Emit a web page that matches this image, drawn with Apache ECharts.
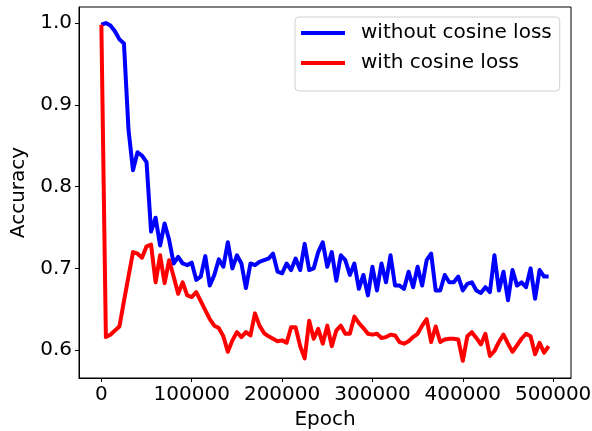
<!DOCTYPE html>
<html>
<head>
<meta charset="utf-8">
<script src="https://cdn.jsdelivr.net/npm/echarts@6/dist/echarts.min.js"></script>
<style>
html,body{margin:0;padding:0;background:#fff;overflow:hidden;}
#c{width:592px;height:431px;}
</style>
</head>
<body>
<div id="c"></div>
<script>
const epochs = [];
for (let i = 0; i < 100; i++) epochs.push(i * 5000);

const withoutCosine = [
  0.998, 1.000, 0.997, 0.990, 0.980, 0.975, 0.870, 0.820, 0.842, 0.838,
  0.830, 0.745, 0.762, 0.728, 0.755, 0.735, 0.706, 0.714, 0.706, 0.704,
  0.707, 0.686, 0.690, 0.715, 0.679, 0.692, 0.711, 0.702, 0.732, 0.700,
  0.716, 0.706, 0.676, 0.706, 0.704, 0.708, 0.710, 0.712, 0.718, 0.696,
  0.694, 0.706, 0.698, 0.712, 0.698, 0.730, 0.698, 0.700, 0.720, 0.732,
  0.702, 0.720, 0.685, 0.716, 0.710, 0.692, 0.706, 0.675, 0.692, 0.667,
  0.702, 0.673, 0.706, 0.683, 0.716, 0.679, 0.679, 0.675, 0.696, 0.677,
  0.702, 0.679, 0.710, 0.718, 0.673, 0.673, 0.692, 0.683, 0.683, 0.690,
  0.673, 0.681, 0.683, 0.673, 0.670, 0.677, 0.671, 0.716, 0.673, 0.696,
  0.661, 0.698, 0.679, 0.683, 0.677, 0.700, 0.663, 0.698, 0.690, 0.690
];

const withCosine = [
  0.998, 0.616, 0.619, 0.624, 0.629, 0.660, 0.690, 0.720, 0.718, 0.713,
  0.727, 0.729, 0.683, 0.716, 0.682, 0.710, 0.690, 0.669, 0.683, 0.667,
  0.665, 0.671, 0.660, 0.649, 0.638, 0.630, 0.627, 0.617, 0.598, 0.612,
  0.622, 0.616, 0.622, 0.618, 0.645, 0.630, 0.621, 0.617, 0.614, 0.611,
  0.612, 0.609, 0.628, 0.628, 0.605, 0.590, 0.636, 0.614, 0.626, 0.608,
  0.630, 0.605, 0.624, 0.630, 0.620, 0.620, 0.641, 0.633, 0.627, 0.620,
  0.619, 0.620, 0.615, 0.616, 0.619, 0.618, 0.610, 0.608, 0.611, 0.616,
  0.620, 0.630, 0.638, 0.610, 0.629, 0.610, 0.613, 0.614, 0.614, 0.613,
  0.587, 0.617, 0.622, 0.615, 0.607, 0.620, 0.593, 0.599, 0.610, 0.619,
  0.608, 0.598, 0.606, 0.614, 0.620, 0.617, 0.595, 0.609, 0.597, 0.605
];

const xTicks = [0, 100000, 200000, 300000, 400000, 500000];
const yTicks = [0.6, 0.7, 0.8, 0.9, 1.0];
const seriesNames = ['without cosine loss', 'with cosine loss'];

const font = 'DejaVu Sans';
const chart = echarts.init(document.getElementById('c'), null, {renderer: 'canvas'});

function pairs(ys) { return epochs.map((x, i) => [x, ys[i]]); }

chart.setOption({
  animation: false,
  backgroundColor: '#fff',
  textStyle: {fontFamily: font},
  grid: {left: 79, top: 7, right: 21, bottom: 53, outerBoundsMode: 'none', containLabel: false,
    show: true, borderColor: '#000', borderWidth: 1, backgroundColor: 'transparent'},
  legend: {
    orient: 'vertical',
    left: 295, top: 17,
    padding: [6, 8, 18, 6],
    itemGap: 10,
    itemWidth: 44, itemHeight: 4,
    backgroundColor: '#fff',
    borderColor: '#d0d0d0', borderWidth: 1, borderRadius: 4,
    textStyle: {fontFamily: font, fontSize: 20, color: '#000', lineHeight: 20, padding: [0, 0, 0, 11]},
    data: seriesNames.map(n => ({name: n, icon: 'rect'}))
  },
  xAxis: {
    type: 'value', min: -24750, max: 519750,
    name: 'Epoch', nameLocation: 'middle', nameGap: 30,
    nameTextStyle: {fontFamily: font, fontSize: 20, color: '#000'},
    axisLine: {show: true, onZero: false, lineStyle: {color: '#000', width: 1}},
    axisTick: {show: true, length: 4, inside: false, customValues: xTicks, lineStyle: {color: '#000'}},
    axisLabel: {show: true, customValues: xTicks, margin: 7, fontFamily: font, fontSize: 20, color: '#000',
      formatter: v => String(Math.round(v))},
    splitLine: {show: false}
  },
  yAxis: {
    type: 'value', min: 0.566, max: 1.0196,
    name: 'Accuracy', nameLocation: 'middle', nameGap: 46,
    nameTextStyle: {fontFamily: font, fontSize: 20, color: '#000'},
    axisLine: {show: true, onZero: false, lineStyle: {color: '#000', width: 1}},
    axisTick: {show: true, length: 4, inside: false, customValues: yTicks, lineStyle: {color: '#000'}},
    axisLabel: {show: true, customValues: yTicks, margin: 7, fontFamily: font, fontSize: 20, color: '#000',
      formatter: v => v.toFixed(1)},
    splitLine: {show: false}
  },
  series: [
    {name: seriesNames[0], type: 'line', data: pairs(withoutCosine), showSymbol: false, symbol: 'none',
      lineStyle: {color: '#0000ff', width: 4, join: 'round'}, itemStyle: {color: '#0000ff'}},
    {name: seriesNames[1], type: 'line', data: pairs(withCosine), showSymbol: false, symbol: 'none',
      lineStyle: {color: '#ff0000', width: 4, join: 'round'}, itemStyle: {color: '#ff0000'}}
  ]
});
</script>
</body>
</html>
